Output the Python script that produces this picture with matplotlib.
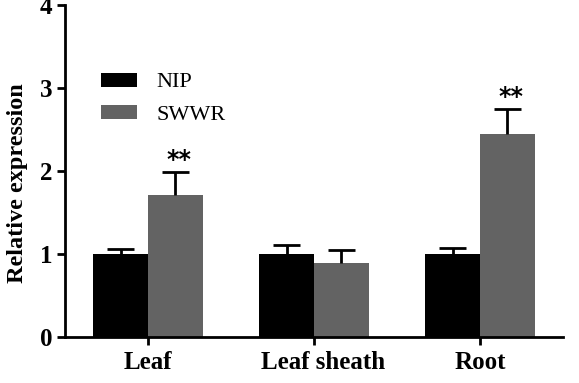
import matplotlib
matplotlib.use("Agg")
import matplotlib.pyplot as plt
import matplotlib.transforms as mtrans
import numpy as np

plt.rcParams["font.family"] = ["Liberation Serif", "DejaVu Serif"]

categories = ["Leaf", "Leaf sheath", "Root"]
nip = [1.0, 1.0, 1.0]
nip_err = [0.06, 0.11, 0.07]
swwr = [1.71, 0.89, 2.45]
swwr_err = [0.28, 0.16, 0.30]
stars = ["**", "", "**"]
# horizontal nudge of each category label (inches), the middle one sits right of its tick
label_shift = [0.0, 0.09, 0.0]

x = np.arange(len(categories))
w = 0.33
cap = 0.081

fig = plt.figure(figsize=(5.79, 3.83), dpi=100)
ax = fig.add_axes([0.1123, 0.1201, 0.8601, 0.8669])

ax.bar(x - w / 2, nip, w, color="black", label="NIP")
ax.bar(x + w / 2, swwr, w, color="#636363", label="SWWR")

# upper error bars only, no cap at the bar top
for xs, vals, errs in [(x - w / 2, nip, nip_err), (x + w / 2, swwr, swwr_err)]:
    tops = np.array(vals) + np.array(errs)
    ax.vlines(xs, vals, tops, color="black", lw=2)
    ax.hlines(tops, xs - cap, xs + cap, color="black", lw=2)

for i, s in enumerate(stars):
    if s:
        tr = ax.transData + mtrans.ScaledTranslation(0.04, 0.0, fig.dpi_scale_trans)
        ax.text(x[i] + w / 2, swwr[i] + swwr_err[i], s, transform=tr,
                ha="center", va="bottom", fontsize=17, fontweight="bold",
                family="DejaVu Sans")

ax.set_xlim(-0.5, 2.5)
ax.set_ylim(0, 4)
ax.set_yticks([0, 1, 2, 3, 4])
ax.set_xticks(x)
ax.set_xticklabels([])
for i, c in enumerate(categories):
    tr = ax.get_xaxis_transform() + mtrans.ScaledTranslation(label_shift[i], -0.14, fig.dpi_scale_trans)
    ax.text(x[i], 0, c, transform=tr, ha="center", va="top",
            fontsize=18, fontweight="bold")
for lab in ax.get_yticklabels():
    lab.set_fontsize(18)
    lab.set_fontweight("bold")
ax.set_ylabel("Relative expression", fontsize=17.5, fontweight="bold")
ax.yaxis.set_label_coords(-0.074, 0.464)

ax.spines["top"].set_visible(False)
ax.spines["right"].set_visible(False)
ax.spines["left"].set_linewidth(2)
ax.spines["bottom"].set_linewidth(2)
ax.tick_params(axis="both", width=2, length=6, pad=3)

ax.legend(loc="upper left", bbox_to_anchor=(0.05, 0.83), frameon=False,
          fontsize=16, handlelength=1.6, handleheight=0.6, borderpad=0,
          labelspacing=0.55, handletextpad=0.9)

plt.savefig("out.png", dpi=100)
